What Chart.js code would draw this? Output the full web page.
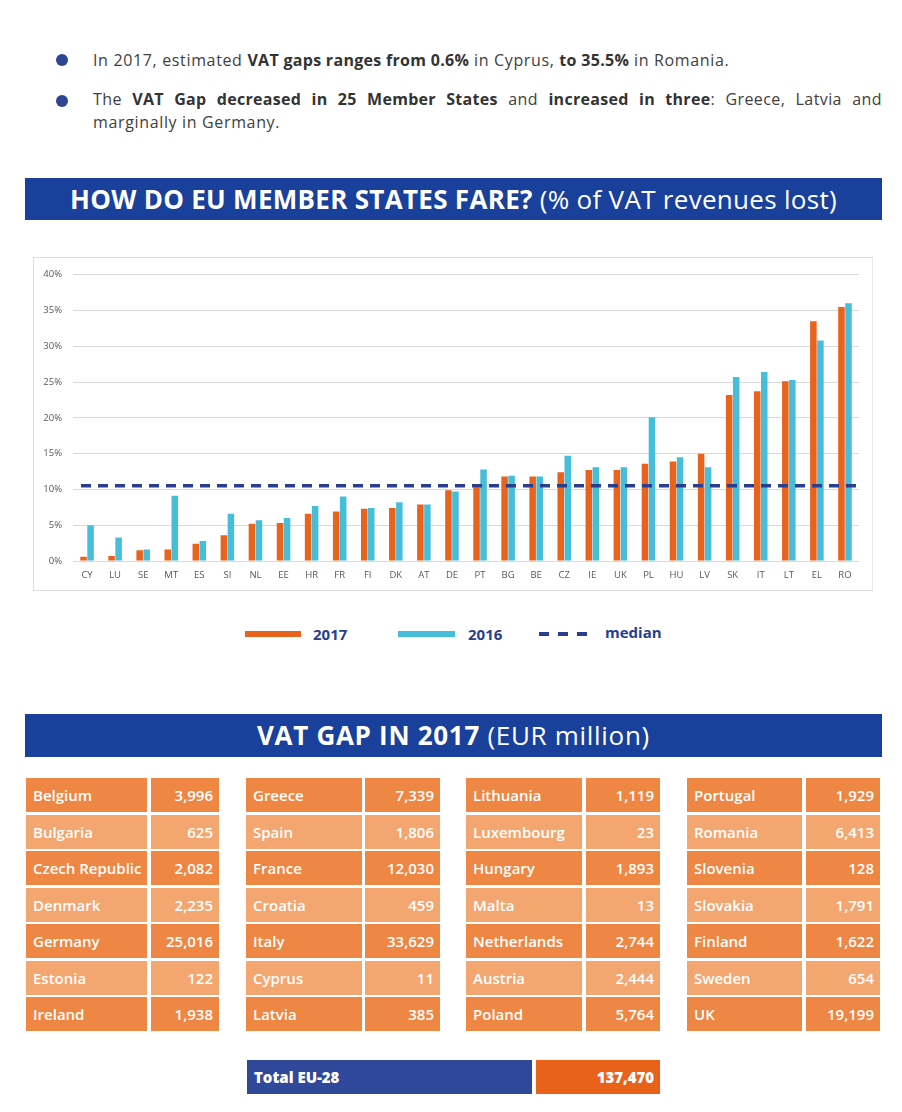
<!DOCTYPE html>
<html>
<head>
<meta charset="utf-8">
<script src="https://cdn.jsdelivr.net/npm/chart.js@4"></script>
<style>
  body { margin: 0; background: #fff; width: 902px; height: 1112px; position: relative; overflow: hidden; font-family: "Open Sans", sans-serif; }
  .abs { position: absolute; }
  .bullet { position: absolute; width: 12px; height: 12px; border-radius: 50%; background: #2e4594; }
  .txt { position: absolute; font-family: "Open Sans", sans-serif; font-size: 16px; color: #404040; line-height: 23px; letter-spacing: 0.65px; white-space: nowrap; }
  .txt b { font-weight: 700; color: #333; letter-spacing: 0.3px; }
  .justify { width: 789px; text-align: justify; text-align-last: justify; letter-spacing: 0.4px; }
  .banner { position: absolute; left: 25px; width: 857px; background: #19409a; color: #fff; font-size: 26px; text-align: center; white-space: nowrap; }
  .banner b { font-weight: 700; }
  #chartBox { position: absolute; left: 33px; top: 257px; width: 838px; height: 332px; border: 1px solid #dcdcdc; border-right-color: #e8e8e8; }
  .leg { position: absolute; font-weight: 700; font-size: 15px; color: #2b3d8f; }
  .cell { position: absolute; height: 34px; line-height: 34px; color: #fff; font-size: 15px; font-weight: 600; box-sizing: border-box; white-space: nowrap; }
  .name { padding-left: 7px; }
  .val { text-align: right; padding-right: 6px; }
</style>
</head>
<body>
<div class="bullet" style="left:56px;top:54px"></div>
<div class="txt" style="left:93px;top:49px">In 2017, estimated <b>VAT gaps ranges from 0.6%</b> in Cyprus, <b>to 35.5%</b> in Romania.</div>
<div class="bullet" style="left:56px;top:95px"></div>
<div class="txt justify" style="left:93px;top:88px">The <b>VAT Gap decreased in 25 Member States</b> and <b>increased in three</b>: Greece, Latvia and</div>
<div class="txt" style="left:93px;top:111px">marginally in Germany.</div>

<div class="banner" style="top:178px;height:42px;line-height:42px;letter-spacing:0.3px"><b>HOW DO EU MEMBER STATES FARE?</b> (% of VAT revenues lost)</div>

<div id="chartBox"><canvas id="chart" width="838" height="332"></canvas></div>

<div class="abs" style="left:245px;top:631px;width:56px;height:6px;background:#e8631c"></div>
<div class="leg" style="left:313px;top:624px">2017</div>
<div class="abs" style="left:398px;top:631px;width:57px;height:6px;background:#46bdd9"></div>
<div class="leg" style="left:468px;top:624px">2016</div>
<div class="abs" style="left:539px;top:632px;width:10px;height:4px;background:#2b3d8f"></div>
<div class="abs" style="left:558px;top:632px;width:10px;height:4px;background:#2b3d8f"></div>
<div class="abs" style="left:577px;top:632px;width:10px;height:4px;background:#2b3d8f"></div>
<div class="leg" style="left:605px;top:622px">median</div>

<div class="banner" style="top:714px;height:43px;line-height:43px;letter-spacing:0.7px"><b>VAT GAP IN 2017</b> (EUR million)</div>

<div id="table"></div>

<div class="cell name" style="left:247px;top:1060px;width:285px;background:#2f4899;font-weight:800">Total EU-28</div>
<div class="cell val" style="left:536px;top:1060px;width:124px;background:#e9621a;font-weight:800">137,470</div>

<script>
const categories = ["CY", "LU", "SE", "MT", "ES", "SI", "NL", "EE", "HR", "FR", "FI", "DK", "AT", "DE",
  "PT", "BG", "BE", "CZ", "IE", "UK", "PL", "HU", "LV", "SK", "IT", "LT", "EL", "RO"];
const gap2017 = [0.6, 0.7, 1.5, 1.6, 2.4, 3.6, 5.2, 5.3, 6.6, 6.9, 7.3, 7.4, 7.9, 9.9,
  10.3, 11.8, 11.8, 12.4, 12.7, 12.7, 13.6, 13.9, 15.0, 23.2, 23.7, 25.1, 33.5, 35.5];
const gap2016 = [5.0, 3.3, 1.6, 9.1, 2.8, 6.6, 5.7, 6.0, 7.7, 9.0, 7.4, 8.2, 7.9, 9.7,
  12.8, 11.9, 11.8, 14.7, 13.1, 13.1, 20.1, 14.5, 13.1, 25.7, 26.4, 25.3, 30.8, 36.0];
const medianGap = 10.5;
const yTicks = [0, 5, 10, 15, 20, 25, 30, 35, 40];

// table: EUR million, four columns of seven
const countryNames = [
  ["Belgium", "Bulgaria", "Czech Republic", "Denmark", "Germany", "Estonia", "Ireland"],
  ["Greece", "Spain", "France", "Croatia", "Italy", "Cyprus", "Latvia"],
  ["Lithuania", "Luxembourg", "Hungary", "Malta", "Netherlands", "Austria", "Poland"],
  ["Portugal", "Romania", "Slovenia", "Slovakia", "Finland", "Sweden", "UK"]
];
const countryGaps = [
  ["3,996", "625", "2,082", "2,235", "25,016", "122", "1,938"],
  ["7,339", "1,806", "12,030", "459", "33,629", "11", "385"],
  ["1,119", "23", "1,893", "13", "2,744", "2,444", "5,764"],
  ["1,929", "6,413", "128", "1,791", "1,622", "654", "19,199"]
];

function buildTable() {
  const cols = [
    { nx: 26, nw: 121, vx: 151, vw: 68 },
    { nx: 246, nw: 116, vx: 365, vw: 75 },
    { nx: 466, nw: 116, vx: 586, vw: 74 },
    { nx: 687, nw: 115, vx: 806, vw: 74 }
  ];
  let html = "";
  countryNames.forEach((names, c) => {
    const col = cols[c];
    names.forEach((n, r) => {
      const top = 778 + r * 36.5;
      const bg = r % 2 === 0 ? "#ee8644" : "#f4a670";
      html += `<div class="cell name" style="left:${col.nx}px;top:${top}px;width:${col.nw}px;background:${bg}">${n}</div>`;
      html += `<div class="cell val" style="left:${col.vx}px;top:${top}px;width:${col.vw}px;background:${bg}">${countryGaps[c][r]}</div>`;
    });
  });
  document.getElementById("table").innerHTML = html;
}
buildTable();

const medianLine = {
  id: "medianLine",
  afterDatasetsDraw(chart) {
    const { ctx, chartArea, scales } = chart;
    const y = scales.y.getPixelForValue(medianGap);
    ctx.save();
    ctx.strokeStyle = "#2b3d8f";
    ctx.lineWidth = 3.5;
    ctx.setLineDash([10, 7]);
    ctx.beginPath();
    ctx.moveTo(chartArea.left + 8, y);
    ctx.lineTo(chartArea.right, y);
    ctx.stroke();
    ctx.restore();
  }
};

new Chart(document.getElementById("chart"), {
  type: "bar",
  data: {
    labels: categories,
    datasets: [
      { label: "2017", data: gap2017, backgroundColor: "#e8631c" },
      { label: "2016", data: gap2016, backgroundColor: "#46bdd9" }
    ]
  },
  options: {
    responsive: false,
    animation: false,
    devicePixelRatio: 1,
    categoryPercentage: 0.5,
    barPercentage: 0.93,
    layout: { padding: { top: 14, right: 13, left: 0, bottom: 0 } },
    plugins: { legend: { display: false }, tooltip: { enabled: false } },
    scales: {
      x: {
        grid: { display: false, drawTicks: false },
        border: { display: false },
        ticks: { font: { family: "Open Sans", size: 9.5 }, color: "#595959", padding: 9, maxRotation: 0, autoSkip: false },
        afterFit(scale) { scale.height = 29; }
      },
      y: {
        min: 0,
        max: 40,
        afterBuildTicks(scale) { scale.ticks = yTicks.map(v => ({ value: v })); },
        grid: { color: "#d9d9d9", drawTicks: false },
        border: { display: false },
        ticks: { font: { family: "Open Sans", size: 9.5 }, color: "#595959", padding: 11, callback: v => v + "%" },
        afterFit(scale) { scale.width = 39; }
      }
    }
  },
  plugins: [medianLine]
});
</script>
</body>
</html>
